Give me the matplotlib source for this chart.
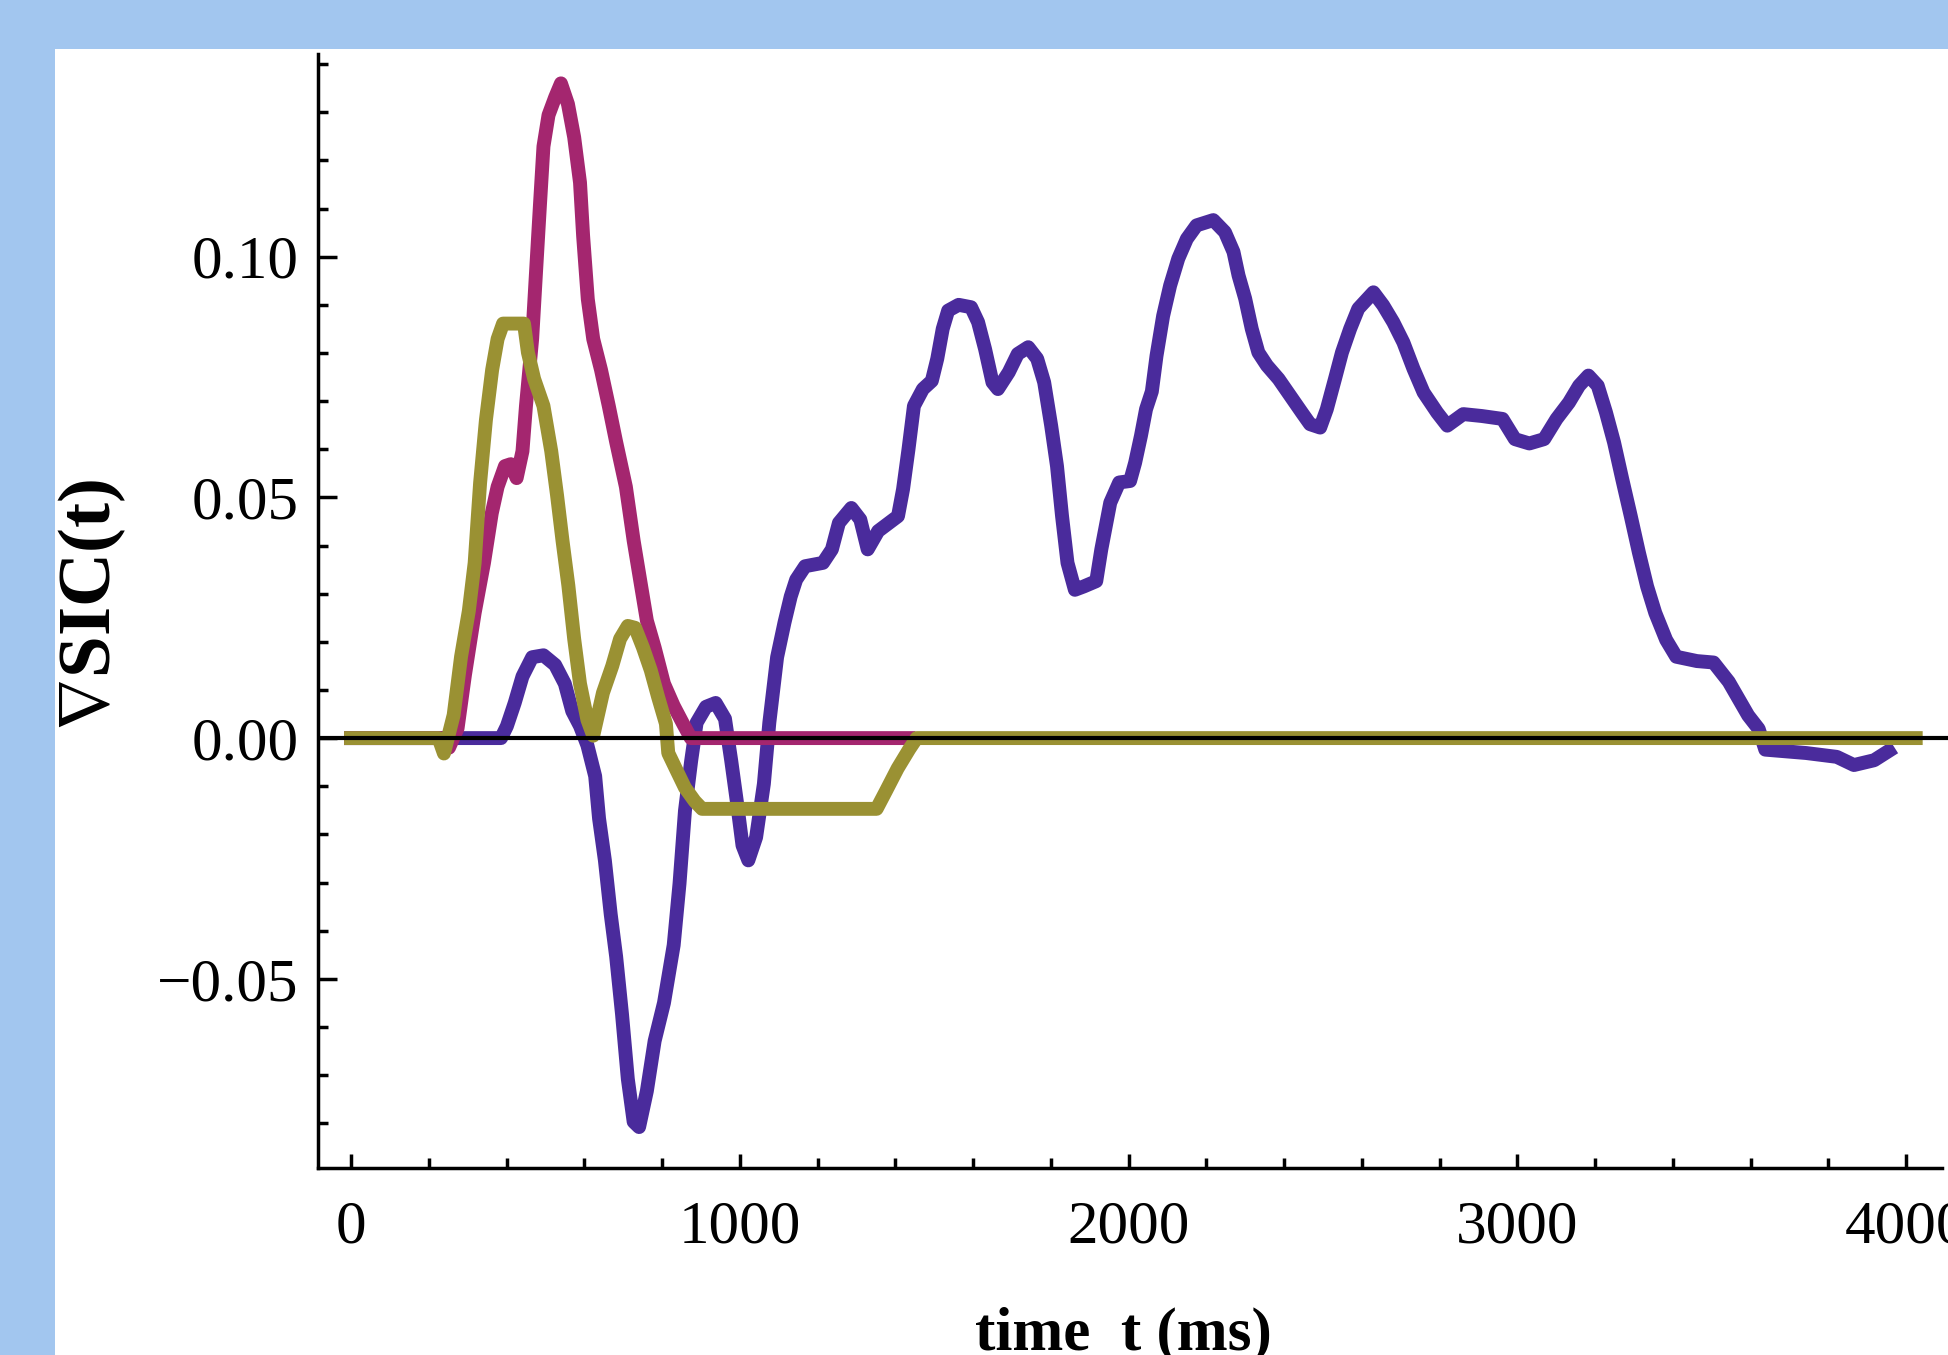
import matplotlib
matplotlib.use("Agg")
import matplotlib.pyplot as plt
from matplotlib.patches import Rectangle
from matplotlib.ticker import MultipleLocator, FuncFormatter

# --- data: time (ms) and gradient of SIC ---
t_purple = [0, 283, 386, 401, 421, 441, 466, 495, 525, 550, 569, 589, 608, 628,
            638, 653, 668, 682, 697, 712, 727, 741, 761, 781, 805, 830, 845, 859,
            875, 889, 913, 938, 962, 978, 993, 1007, 1022, 1042, 1062, 1076, 1096,
            1115, 1131, 1145, 1168, 1214, 1237, 1255, 1287, 1310, 1329, 1356, 1379,
            1407, 1420, 1434, 1448, 1471, 1494, 1508, 1522, 1536, 1563, 1595, 1613,
            1631, 1650, 1664, 1692, 1715, 1742, 1765, 1783, 1801, 1816, 1829, 1843,
            1862, 1885, 1917, 1930, 1953, 1976, 2004, 2017, 2032, 2045, 2060, 2072,
            2089, 2107, 2128, 2150, 2175, 2218, 2248, 2270, 2283, 2300, 2317, 2334,
            2356, 2386, 2416, 2446, 2467, 2493, 2510, 2531, 2549, 2570, 2591, 2630,
            2655, 2681, 2707, 2733, 2759, 2794, 2820, 2861, 2909, 2962, 2994, 3031,
            3069, 3101, 3133, 3159, 3183, 3207, 3228, 3249, 3270, 3292, 3313, 3334,
            3355, 3383, 3409, 3462, 3505, 3544, 3569, 3594, 3621, 3638, 3743, 3822,
            3866, 3918, 3955]
v_purple = [0, 0, 0, 0.0025, 0.0073, 0.0128, 0.0168, 0.0172, 0.0152, 0.0113, 0.0056,
            0.0025, -0.0015, -0.0079, -0.0167, -0.0254, -0.0366, -0.0454, -0.0573,
            -0.0708, -0.0797, -0.0808, -0.0733, -0.0629, -0.0550, -0.0430, -0.0302,
            -0.0151, -0.0047, 0.0032, 0.0065, 0.0073, 0.0040, -0.0047, -0.0135,
            -0.0223, -0.0254, -0.0206, -0.0095, 0.0032, 0.0168, 0.0240, 0.0294,
            0.0329, 0.0357, 0.0364, 0.0392, 0.0447, 0.0478, 0.0454, 0.0392, 0.0430,
            0.0444, 0.0461, 0.0517, 0.0600, 0.0690, 0.0725, 0.0742, 0.0788, 0.0850,
            0.0888, 0.0900, 0.0895, 0.0864, 0.0808, 0.0739, 0.0725, 0.0760, 0.0798,
            0.0812, 0.0788, 0.0739, 0.0649, 0.0565, 0.0461, 0.0364, 0.0308, 0.0315,
            0.0326, 0.0392, 0.0489, 0.0531, 0.0534, 0.0572, 0.0628, 0.0683, 0.0720,
            0.0794, 0.0877, 0.0940, 0.0996, 0.1037, 0.1065, 0.1076, 0.1051, 0.1010,
            0.0961, 0.0913, 0.0850, 0.0801, 0.0774, 0.0746, 0.0711, 0.0676, 0.0652,
            0.0645, 0.0683, 0.0746, 0.0801, 0.0850, 0.0892, 0.0926, 0.0899, 0.0864,
            0.0822, 0.0767, 0.0718, 0.0676, 0.0649, 0.0673, 0.0669, 0.0663, 0.0621,
            0.0612, 0.0621, 0.0663, 0.0697, 0.0732, 0.0753, 0.0732, 0.0677, 0.0614,
            0.0538, 0.0461, 0.0385, 0.0315, 0.0260, 0.0204, 0.0169, 0.0160, 0.0157,
            0.0117, 0.0082, 0.0047, 0.0019, -0.0024, -0.0031, -0.0039, -0.0056,
            -0.0046, -0.0027]

t_magenta = [0, 235, 252, 274, 293, 318, 342, 362, 377, 396, 411, 426, 441, 450,
             466, 476, 486, 495, 508, 525, 540, 558, 574, 589, 597, 609, 623, 643,
             663, 682, 707, 727, 746, 761, 781, 805, 830, 854, 874, 1434]
v_magenta = [0, 0, -0.002, 0.002, 0.0131, 0.026, 0.0364, 0.0467, 0.0522, 0.0565,
             0.0569, 0.054, 0.0596, 0.069, 0.083, 0.097, 0.1108, 0.1229, 0.1294,
             0.1331, 0.136, 0.1317, 0.1248, 0.1154, 0.1043, 0.0912, 0.0829, 0.0765,
             0.069, 0.0615, 0.0522, 0.041, 0.0317, 0.0244, 0.0188, 0.0113, 0.0067,
             0.003, 0, 0]

t_olive = [0, 225, 239, 264, 283, 303, 318, 332, 347, 363, 377, 391, 421, 445, 455,
           471, 495, 515, 530, 544, 559, 574, 589, 608, 623, 648, 672, 692, 712,
           731, 751, 771, 790, 810, 816, 835, 859, 884, 903, 1352, 1376, 1406, 1436,
           1455, 4025]
v_olive = [0, 0, -0.0032, 0.0048, 0.0169, 0.0264, 0.0364, 0.053, 0.0661, 0.0765,
           0.0829, 0.0861, 0.0861, 0.0861, 0.0801, 0.0746, 0.069, 0.0596, 0.0504,
           0.041, 0.0317, 0.0206, 0.0113, 0.0038, 0.0005, 0.0094, 0.015, 0.0206,
           0.0233, 0.0229, 0.0188, 0.0141, 0.0085, 0.003, -0.0031, -0.0063, -0.0103,
           -0.0131, -0.0147, -0.0147, -0.011, -0.0063, -0.0023, 0, 0]

x_major = 1000
x_minor = 200
y_major = 0.05
y_minor = 0.01

SERIF = ["Liberation Serif", "DejaVu Serif"]
plt.rcParams["font.family"] = SERIF
plt.rcParams["mathtext.fontset"] = "stix"

fig = plt.figure(figsize=(19.48, 13.55), dpi=100, facecolor="#a2c6ef")
fig.add_artist(Rectangle((55 / 1948, 0), 1, 1 - 49 / 1355, transform=fig.transFigure,
                         facecolor="white", edgecolor="none", zorder=-1))

ax = fig.add_axes([0.16324, 0.13801, 0.83676, 0.82214])
ax.set_facecolor("white")

kw = dict(lw=10, solid_capstyle="projecting", solid_joinstyle="round")
ax.plot(t_purple, v_purple, color="#4a2b9c", zorder=2, **kw)
ax.plot(t_magenta, v_magenta, color="#a4266f", zorder=3, **kw)
ax.plot(t_olive, v_olive, color="#9a9133", zorder=4, **kw)
ax.axhline(0, color="black", lw=3, zorder=5)

ax.set_xlim(-85, 4108)
ax.set_ylim(-0.0893, 0.1421)

for s in ("top", "right"):
    ax.spines[s].set_visible(False)
for s in ("left", "bottom"):
    ax.spines[s].set_linewidth(2.5)
ax.spines["bottom"].set_bounds(-85, 4093)

ax.xaxis.set_major_locator(MultipleLocator(x_major))
ax.xaxis.set_minor_locator(MultipleLocator(x_minor))
ax.yaxis.set_major_locator(MultipleLocator(y_major))
ax.yaxis.set_minor_locator(MultipleLocator(y_minor))
ax.yaxis.set_major_formatter(FuncFormatter(
    lambda v, p: f"{0.0 if abs(v) < 1e-9 else v:.2f}".replace("-", "\u2212")))

ax.tick_params(which="both", direction="in", width=2.5, labelsize=44)
ax.tick_params(axis="y", which="major", length=13.5, pad=14)
ax.tick_params(axis="y", which="minor", length=7)
ax.tick_params(axis="x", which="major", length=10, pad=23)
ax.tick_params(axis="x", which="minor", length=7)

# hollow nabla like the original (mathtext glyph), rest in bold serif
ax.set_ylabel(r"$\nabla$SIC(t)", fontsize=54, fontweight="bold")
ax.yaxis.set_label_coords(-0.1387, 0.5054)
ax.yaxis.label.set_va("center")

ax.set_xlabel("time  t (ms)", fontsize=44, fontweight="bold")
ax.xaxis.set_label_coords(0.494, -0.1634)
ax.xaxis.label.set_va("baseline")

fig.savefig("out.png", dpi=100)
